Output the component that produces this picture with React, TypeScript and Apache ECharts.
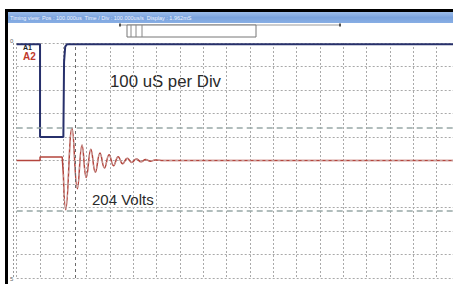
import React, { useEffect, useRef } from "react";
import * as echarts from "echarts";

// Time in divisions (100 uS per div), voltage in divisions
const a1Time = [0, 1, 1, 2, 2.03, 2.08, 2.16, 19];
const a1Level = [4.95, 4.95, 1.0, 1.0, 4.2, 4.85, 4.95, 4.95];

const a2StepTime = [0, 1, 1, 1.95, 2.0];
const a2StepLevel = [0, 0, 0.15, 0.15, -0.6];

const a2RingTime = [2.0, 2.1, 2.37, 2.6, 2.8, 2.98, 3.18, 3.37, 3.57, 3.76, 3.96, 4.15, 4.35, 4.54, 4.74, 4.93, 5.13, 5.33, 5.53, 5.73, 5.93, 6.3, 19];
const a2RingLevel = [-0.6, -2.1, 1.38, -1.2, 0.66, -0.72, 0.48, -0.5, 0.32, -0.32, 0.24, -0.22, 0.16, -0.14, 0.1, -0.08, 0.06, -0.05, 0.04, -0.03, 0.02, 0, 0];

const cursorLevels = [1.38, -2.12];
const cursorTimes = [2.5];

const timeLabel = "100 uS per Div";
const voltLabel = "204 Volts";
const titleText = "Timing view: Pos : 100.000us  Time / Div : 100.000us/s  Display : 1.962mS";

const zip = (a: number[], b: number[]) => a.map((v, i) => [v, b[i]]);

export default function App() {
  const ref = useRef<HTMLDivElement>(null);
  useEffect(() => {
    if (!ref.current) return;
    const chart = echarts.init(ref.current, null, { renderer: "svg" });
    const grid = "#a9a9a9";
    chart.setOption({
      animation: false,
      backgroundColor: "#ffffff",
      grid: { left: 16.7, right: 0, top: 43, bottom: 6 },
      xAxis: {
        type: "value",
        min: 0,
        max: 19,
        interval: 1,
        axisLine: { show: false },
        axisTick: { show: false },
        axisLabel: { show: false },
        splitLine: { show: true, lineStyle: { color: grid, type: [2, 2], width: 1 } },
      },
      yAxis: {
        type: "value",
        min: -5,
        max: 5,
        interval: 1,
        axisLine: { show: false },
        axisTick: { show: false },
        axisLabel: { show: false },
        splitLine: { show: true, lineStyle: { color: grid, type: [2, 2], width: 1 } },
      },
      series: [
        {
          type: "line",
          data: zip(a1Time, a1Level),
          showSymbol: false,
          lineStyle: { color: "#27306b", width: 2 },
          markLine: {
            silent: true,
            symbol: "none",
            label: { show: false },
            lineStyle: { color: "#6a6a6a", type: [3, 3], width: 1 },
            data: cursorTimes.map((t) => ({ xAxis: t })),
          },
        },
        {
          type: "line",
          data: zip(a2StepTime, a2StepLevel),
          showSymbol: false,
          lineStyle: { color: "#b4453d", width: 1.5 },
        },
        {
          type: "line",
          data: zip(a2RingTime, a2RingLevel),
          showSymbol: false,
          smooth: 0.45,
          lineStyle: { color: "#b4453d", width: 1.5 },
          markLine: {
            silent: true,
            symbol: "none",
            label: { show: false },
            lineStyle: { color: "#98a8a6", type: [6, 4], width: 1.5 },
            data: cursorLevels.map((v) => ({ yAxis: v })),
          },
        },
        {
          type: "line",
          data: zip(a2RingTime, a2RingLevel),
          showSymbol: false,
          smooth: 0.45,
          lineStyle: { color: "rgba(205,205,205,0.85)", width: 0.8, type: [3, 3] },
        },
      ],
      graphic: [
        { type: "rect", shape: { x: 5, y: 9, width: 460, height: 3 }, style: { fill: "#000" } },
        { type: "rect", shape: { x: 5, y: 9, width: 3, height: 280 }, style: { fill: "#000" } },
        {
          type: "rect",
          shape: { x: 8, y: 12, width: 452, height: 11 },
          style: {
            fill: new echarts.graphic.LinearGradient(0, 0, 0, 1, [
              { offset: 0, color: "#9dbdea" },
              { offset: 0.5, color: "#7aa3de" },
              { offset: 1, color: "#88aee4" },
            ]),
          },
        },
        {
          type: "text",
          style: { text: titleText, x: 10, y: 17.5, fill: "#eef4ff", font: "5.5px 'Liberation Sans', Arial", verticalAlign: "middle" },
        },
        { type: "line", shape: { x1: 120, y1: 25, x2: 340, y2: 25 }, style: { stroke: "#9a9a9a", lineWidth: 1 } },
        { type: "rect", shape: { x: 119, y: 23.5, width: 2, height: 3 }, style: { fill: "#555" } },
        { type: "rect", shape: { x: 339, y: 23.5, width: 2, height: 3 }, style: { fill: "#555" } },
        { type: "rect", shape: { x: 127, y: 25, width: 129, height: 12 }, style: { fill: "#fff", stroke: "#777", lineWidth: 1 } },
        { type: "line", shape: { x1: 131, y1: 25, x2: 131, y2: 37 }, style: { stroke: "#888", lineWidth: 1 } },
        { type: "line", shape: { x1: 136, y1: 25, x2: 136, y2: 37 }, style: { stroke: "#888", lineWidth: 1 } },
        { type: "line", shape: { x1: 142, y1: 25, x2: 142, y2: 37 }, style: { stroke: "#888", lineWidth: 1 } },
        { type: "line", shape: { x1: 13.5, y1: 43, x2: 13.5, y2: 278 }, style: { stroke: "#999", lineWidth: 1, lineDash: [2, 2] } },
        { type: "text", style: { text: "0", x: 10, y: 41, fill: "#666", font: "6px 'Liberation Sans', Arial", verticalAlign: "middle" } },
        { type: "text", style: { text: "5", x: 10, y: 279, fill: "#666", font: "6px 'Liberation Sans', Arial", verticalAlign: "middle" } },
        { type: "text", style: { text: "A1", x: 23, y: 47, fill: "#222", font: "bold 7px 'Liberation Sans', Arial", verticalAlign: "middle" } },
        { type: "text", style: { text: "A2", x: 23, y: 56, fill: "#c0392b", font: "bold 10px 'Liberation Sans', Arial", verticalAlign: "middle" } },
        { type: "text", style: { text: timeLabel, x: 110, y: 81, fill: "#2a2a2a", font: "16.8px 'Liberation Sans', Arial", verticalAlign: "middle" } },
        { type: "text", style: { text: voltLabel, x: 92, y: 199, fill: "#2a2a2a", font: "15px 'Liberation Sans', Arial", verticalAlign: "middle" } },
      ],
    });
    return () => chart.dispose();
  }, []);
  return (
    <div style={{ position: "absolute", left: 0, top: 0, width: 453, height: 284, overflow: "hidden", background: "#fff" }}>
      <div ref={ref} style={{ width: 460, height: 284 }} />
    </div>
  );
}
